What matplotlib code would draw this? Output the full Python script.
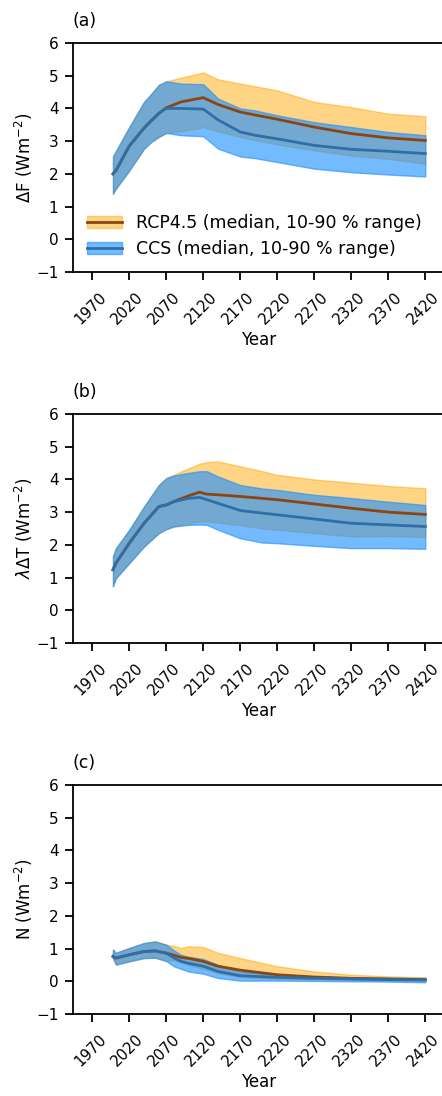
import matplotlib
matplotlib.use('Agg')

import matplotlib.pyplot as plt
import matplotlib.transforms as mtransforms
from matplotlib.patches import Patch
from matplotlib.lines import Line2D

# panel (a): Delta F
years_a = [1998, 2002, 2020, 2040, 2050, 2060, 2070, 2090, 2120, 2140, 2170, 2190, 2220, 2270, 2320, 2370, 2420]
ccs_med_a = [2.0, 2.1, 2.85, 3.4, 3.63, 3.85, 4.0, 4.0, 3.98, 3.65, 3.28, 3.18, 3.07, 2.87, 2.75, 2.69, 2.62]
ccs_hi_a = [2.53, 2.7, 3.43, 4.2, 4.45, 4.72, 4.83, 4.76, 4.74, 4.3, 4.0, 3.94, 3.79, 3.58, 3.43, 3.28, 3.18]
ccs_lo_a = [1.39, 1.55, 2.1, 2.77, 2.98, 3.13, 3.25, 3.18, 3.15, 2.77, 2.53, 2.48, 2.36, 2.16, 2.05, 1.98, 1.92]
rcp_med_a = [2.0, 2.1, 2.85, 3.4, 3.63, 3.85, 4.02, 4.2, 4.33, 4.12, 3.89, 3.8, 3.67, 3.43, 3.23, 3.1, 3.02]
rcp_hi_a = [2.53, 2.7, 3.43, 4.2, 4.45, 4.72, 4.83, 4.94, 5.1, 4.89, 4.76, 4.68, 4.55, 4.2, 4.04, 3.84, 3.76]
rcp_lo_a = [1.39, 1.55, 2.1, 2.77, 2.98, 3.13, 3.25, 3.3, 3.43, 3.3, 3.13, 3.03, 2.9, 2.72, 2.56, 2.46, 2.31]

# panel (b): lambda Delta T
years_b = [1998, 2002, 2020, 2040, 2060, 2070, 2080, 2100, 2115, 2125, 2140, 2170, 2200, 2220, 2270, 2320, 2370, 2420]
ccs_med_b = [1.24, 1.44, 2.05, 2.66, 3.17, 3.22, 3.32, 3.42, 3.45, 3.38, 3.27, 3.05, 2.97, 2.92, 2.79, 2.66, 2.61, 2.56]
ccs_hi_b = [1.65, 1.9, 2.46, 3.17, 3.83, 4.04, 4.12, 4.2, 4.25, 4.25, 4.09, 3.83, 3.72, 3.68, 3.53, 3.43, 3.32, 3.22]
ccs_lo_b = [0.73, 0.98, 1.44, 1.95, 2.36, 2.48, 2.56, 2.61, 2.62, 2.61, 2.46, 2.2, 2.07, 2.05, 1.97, 1.9, 1.9, 1.88]
rcp_med_b = [1.24, 1.44, 2.05, 2.66, 3.17, 3.22, 3.32, 3.5, 3.61, 3.55, 3.53, 3.48, 3.42, 3.38, 3.25, 3.12, 3.0, 2.93]
rcp_hi_b = [1.65, 1.9, 2.46, 3.17, 3.83, 4.04, 4.14, 4.34, 4.48, 4.53, 4.55, 4.4, 4.25, 4.14, 4.0, 3.9, 3.8, 3.73]
rcp_lo_b = [0.73, 0.98, 1.44, 1.95, 2.36, 2.48, 2.56, 2.65, 2.72, 2.72, 2.68, 2.6, 2.5, 2.46, 2.36, 2.26, 2.27, 2.24]

# panel (c): N
years_c = [1998, 2002, 2020, 2040, 2055, 2070, 2080, 2090, 2100, 2120, 2140, 2170, 2220, 2270, 2320, 2370, 2420]
ccs_med_c = [0.76, 0.71, 0.81, 0.91, 0.93, 0.86, 0.72, 0.61, 0.55, 0.46, 0.3, 0.17, 0.12, 0.09, 0.07, 0.05, 0.04]
ccs_hi_c = [0.97, 0.87, 1.02, 1.17, 1.22, 1.12, 0.95, 0.81, 0.75, 0.68, 0.5, 0.3, 0.2, 0.15, 0.12, 0.11, 0.1]
ccs_lo_c = [0.71, 0.51, 0.61, 0.71, 0.72, 0.62, 0.46, 0.38, 0.3, 0.23, 0.1, 0.02, 0.02, 0.01, 0.0, -0.01, -0.03]
rcp_med_c = [0.76, 0.71, 0.81, 0.91, 0.93, 0.86, 0.8, 0.73, 0.7, 0.61, 0.46, 0.34, 0.2, 0.13, 0.09, 0.07, 0.05]
rcp_hi_c = [0.97, 0.87, 1.02, 1.17, 1.22, 1.12, 1.08, 1.02, 1.07, 1.05, 0.87, 0.71, 0.46, 0.3, 0.2, 0.15, 0.12]
rcp_lo_c = [0.71, 0.51, 0.61, 0.71, 0.72, 0.62, 0.64, 0.58, 0.5, 0.38, 0.25, 0.13, 0.07, 0.06, 0.05, 0.03, 0.02]

xticks = [1970, 2020, 2070, 2120, 2170, 2220, 2270, 2320, 2370, 2420]
panel_labels = ['(a)', '(b)', '(c)']
ylabels = [r'$\Delta$F (Wm$^{-2}$)', r'$\lambda\Delta$T (Wm$^{-2}$)', r'N (Wm$^{-2}$)']

panels = [
	(years_a, rcp_med_a, rcp_lo_a, rcp_hi_a, ccs_med_a, ccs_lo_a, ccs_hi_a),
	(years_b, rcp_med_b, rcp_lo_b, rcp_hi_b, ccs_med_b, ccs_lo_b, ccs_hi_b),
	(years_c, rcp_med_c, rcp_lo_c, rcp_hi_c, ccs_med_c, ccs_lo_c, ccs_hi_c),
]

rcp_fill = 'orange'
rcp_line = 'saddlebrown'
ccs_fill = 'dodgerblue'
ccs_line = '#2f6fa8'

W, H = 442, 1096
fig = plt.figure(figsize=(W/100, H/100), dpi=100)

tops = [43, 414, 785]
ax_h = 229
left = 73
right = 443.8

# nudge the rotated year labels a little to the left so 2420 stays inside
shift = mtransforms.ScaledTranslation(-2/100, 0, fig.dpi_scale_trans)

for i, (yrs, rmed, rlo, rhi, cmed, clo, chi) in enumerate(panels):
	top = tops[i]
	ax = fig.add_axes([left/W, 1 - (top + ax_h)/H, (right - left)/W, ax_h/H])

	ax.fill_between(yrs, rlo, rhi, color=rcp_fill, alpha=0.48, lw=1)
	ax.fill_between(yrs, clo, chi, color=ccs_fill, alpha=0.62, lw=1)
	ax.plot(yrs, rmed, color=rcp_line, lw=2)
	ax.plot(yrs, cmed, color=ccs_line, lw=2)

	ax.set_xlim(1944, 2445)
	ax.set_ylim(-1, 6)
	ax.set_yticks(range(-1, 7))
	ax.set_xticks(xticks)
	ax.set_xticklabels([str(x) for x in xticks], rotation=45)
	ax.tick_params(labelsize=11, length=5.5, width=1.3)
	ax.tick_params(axis='x', pad=7, labelsize=10.8)
	ax.tick_params(axis='y', pad=5)
	for lab in ax.get_xticklabels():
		lab.set_transform(lab.get_transform() + shift)
	for sp in ax.spines.values():
		sp.set_linewidth(1.3)
	ax.set_xlabel('Year', fontsize=12, labelpad=3)
	ax.set_ylabel(ylabels[i], fontsize=12, labelpad=1)
	ax.text(0.0, 1.055, panel_labels[i], transform=ax.transAxes, ha='left', va='bottom', fontsize=12.5)

	if i == 0:
		h_rcp = (Patch(facecolor=rcp_fill, edgecolor=rcp_fill, alpha=0.48),
			Line2D([], [], color=rcp_line, lw=2))
		h_ccs = (Patch(facecolor=ccs_fill, edgecolor=ccs_fill, alpha=0.62),
			Line2D([], [], color=ccs_line, lw=2))
		ax.legend([h_rcp, h_ccs], ['RCP4.5 (median, 10-90 % range)', 'CCS (median, 10-90 % range)'],
			loc='lower left', frameon=False, fontsize=12.5, handlelength=2.0,
			borderaxespad=0.4, labelspacing=0.45)

fig.savefig('out.png', dpi=100)
